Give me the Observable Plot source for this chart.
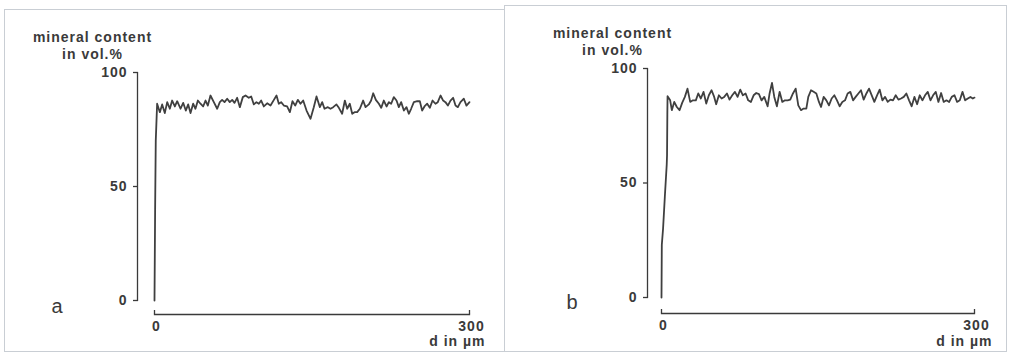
<!DOCTYPE html>
<html>
<head>
<meta charset="utf-8">
<script src="https://cdn.jsdelivr.net/npm/d3@7"></script>
<script src="https://cdn.jsdelivr.net/npm/@observablehq/plot@0.6"></script>
<style>
  html, body { margin: 0; padding: 0; background: #fff; }
  #wrap { position: relative; width: 1009px; height: 354px; overflow: hidden; background: #fff; }
  .panel { position: absolute; top: 0; width: 504px; height: 354px; }
  .border { position: absolute; border: 1px solid #c9ced4; box-sizing: border-box; }
</style>
</head>
<body>
<div id="wrap">
  <div class="border" style="left:4px; top:9px; width:501px; height:343px;"></div>
  <div class="border" style="left:504px; top:5px; width:503px; height:347px;"></div>
  <div class="panel" id="pa" style="left:0px;"></div>
  <div class="panel" id="pb" style="left:504px;"></div>
</div>
<script>
// ---- data ----
const yTitle1 = "mineral content";
const yTitle2 = "in vol.%";
const xTitle = "d in µm";
const yTicks = [0, 50, 100];
const xTicks = [0, 300];
const panelLabels = ["a", "b"];

const aDepth = [0,0.6,1.2,2.5,5.1,7.3,9.8,12.1,14.6,16.8,19.4,21.6,24.8,27.3,29.8,32.1,34.3,36.8,39.0,41.3,43.8,46.3,48.6,50.8,53.3,56.5,59.7,62.2,64.4,66.7,69.2,71.7,74.0,76.2,78.7,81.3,84.1,86.7,89.8,92.1,94.6,97.1,99.4,101.6,104.1,107.3,110.5,113.7,116.2,118.4,120.6,123.2,126.3,128.9,131.4,134.0,136.5,139.0,141.6,144.8,148.6,151.7,154.3,157.5,159.7,161.9,165.1,167.6,170.2,173.3,175.6,178.7,181.3,183.5,186.0,188.3,190.5,193.0,195.6,198.7,201.0,204.1,206.3,208.3,210.8,213.7,215.9,218.4,221.0,223.2,225.4,227.9,230.5,232.7,234.9,237.5,240.0,242.2,244.4,247.0,250.2,252.7,254.9,257.1,259.7,262.2,264.8,267.6,269.8,272.4,274.9,277.1,279.4,281.9,284.4,286.7,288.9,291.4,294.6,297.1,300];
const aMineral = [0,40,70,86.3,82.6,86.0,82.2,87.0,84.1,87.7,85.1,87.4,84.1,86.7,83.3,86.0,82.2,86.3,84.1,87.7,86.3,85.1,87.7,85.5,89.9,87.0,84.1,87.0,88.0,87.0,88.5,87.0,88.0,86.7,88.9,84.8,89.2,89.9,88.9,89.5,86.0,87.0,86.3,87.7,85.1,86.5,85.5,88.0,89.9,86.3,87.0,85.5,85.1,82.6,87.4,85.5,88.0,86.3,87.7,83.3,79.7,84.8,89.5,84.8,87.0,84.1,84.8,84.1,84.8,86.0,84.5,81.9,87.7,84.1,86.3,81.9,82.6,82.6,84.1,87.7,84.8,86.0,87.7,90.9,88.0,86.3,84.5,87.7,85.1,87.0,86.3,89.2,87.7,84.8,87.0,83.3,84.8,81.9,84.1,87.0,87.4,87.4,83.3,85.1,86.3,84.5,87.7,86.3,87.0,89.9,87.7,87.0,85.5,87.7,88.9,85.5,84.8,87.0,88.5,85.5,87.0];

const bDepth = [0,0.3,1.5,3.2,5.0,5.3,5.6,5.8,8.3,9.9,12.2,14.7,17.3,19.8,22.4,24.9,27.5,30.1,32.9,35.2,37.7,40.3,42.9,45.4,48.0,50.5,52.4,55.0,57.6,60.1,62.7,65.2,67.8,70.4,72.9,75.5,78.0,80.6,83.1,85.7,88.3,90.8,93.4,95.9,98.5,101.7,103.6,105.9,108.1,110.6,113.2,115.8,118.3,120.9,123.4,126.0,128.6,131.1,133.7,136.2,138.8,140.7,143.3,145.8,148.4,150.9,152.9,155.4,158.0,160.5,163.1,165.7,168.2,170.8,173.3,175.9,178.4,181.0,183.6,186.1,188.7,191.2,193.8,196.4,198.9,201.5,204.0,206.6,209.1,211.7,214.3,216.8,219.4,221.9,224.5,227.1,229.6,232.2,234.7,237.3,239.8,242.4,245.0,247.5,250.1,252.6,255.2,257.8,260.3,262.9,265.4,268.0,270.5,273.1,275.7,278.2,280.8,283.3,285.9,288.5,291.0,293.6,296.1,298.4,300];
const bMineral = [0,23,30,44,58,62,80,87.9,86.1,81.8,85.4,83.2,81.8,85.0,87.6,91.2,85.4,86.1,86.1,89.1,86.9,89.8,84.7,88.3,90.5,87.6,84.4,88.3,86.9,87.6,89.1,86.4,88.3,89.8,87.6,90.8,88.3,89.1,86.1,85.4,88.3,89.3,88.8,86.1,87.6,83.5,89.1,93.7,87.6,83.5,89.8,85.4,86.1,86.1,86.4,89.1,91.2,83.9,81.8,82.5,82.5,87.6,90.5,89.8,89.1,85.4,83.2,87.6,86.1,83.9,86.9,88.3,86.1,83.5,85.4,86.1,89.1,89.8,86.1,87.6,89.1,90.5,86.4,89.1,91.2,88.3,85.4,88.3,90.8,86.1,87.6,85.4,86.4,86.1,88.3,86.4,86.9,87.6,89.1,86.1,83.5,87.6,84.4,88.3,86.1,88.3,89.8,86.1,88.3,89.8,85.4,89.3,85.4,86.1,85.4,87.6,88.3,85.4,86.1,89.8,86.1,86.9,87.6,86.9,87.3];

const ink = "#3a3a3a";

function panel(depth, mineral, label, g) {
  const data = depth.map((d, i) => ({d, v: mineral[i]}));
  return Plot.plot({
    width: 504,
    height: 354,
    marginLeft: g.ml, marginRight: g.mr, marginTop: g.mt, marginBottom: g.mb,
    style: {fontFamily: "'Liberation Sans', Arial, sans-serif", fontWeight: "bold", fontSize: "14px", letterSpacing: "1px", color: ink, background: "transparent", overflow: "visible"},
    x: {domain: [0, 300]},
    y: {domain: [0, 100]},
    marks: [
      // y axis line and ticks (offset left of the data frame)
      Plot.frame({anchor: "left", dx: -g.yOff, stroke: ink, strokeWidth: 1.3}),
      Plot.axisY({ticks: yTicks, tickSize: 4, dx: -g.yOff, tickPadding: 6, label: null, stroke: ink, strokeWidth: 1.3, fill: ink, fontSize: 14}),
      // x axis line and ticks (offset below the data frame)
      Plot.frame({anchor: "bottom", dy: g.xOff, stroke: ink, strokeWidth: 1.3}),
      Plot.axisX({ticks: xTicks, tickSize: 4, dy: g.xOff - 4, text: null, label: null, stroke: ink, strokeWidth: 1.3}),
      Plot.axisX({ticks: xTicks, tickSize: 0, dy: g.xOff - 1, tickPadding: 8, label: null, fill: ink, fontSize: 14, dx: 2}),
      // titles
      Plot.text([yTitle1], {frameAnchor: "top-left", dx: g.tdx, dy: g.tdy, text: d => d, textAnchor: "middle", fill: ink, fontSize: 14}),
      Plot.text([yTitle2], {frameAnchor: "top-left", dx: g.tdx, dy: g.tdy + 17, text: d => d, textAnchor: "middle", fill: ink, fontSize: 14}),
      Plot.text([xTitle], {frameAnchor: "bottom-right", dx: g.xtdx, dy: g.xtdy, text: d => d, textAnchor: "end", fill: ink, fontSize: 14}),
      Plot.text([label], {frameAnchor: "bottom-left", dx: g.ldx, dy: g.ldy, text: d => d, textAnchor: "middle", fill: ink, fontSize: 20, fontWeight: "normal"}),
      // data
      Plot.line(data, {x: "d", y: "v", stroke: "#404040", strokeWidth: 1.8, strokeLinejoin: "round"})
    ]
  });
}

document.getElementById("pa").appendChild(panel(aDepth, aMineral, panelLabels[0],
  {ml: 154, mr: 35, mt: 72, mb: 54, yOff: 17, xOff: 14, tdx: -62, tdy: -40, xtdx: 16, xtdy: 45, ldx: -97, ldy: 12}));
document.getElementById("pb").appendChild(panel(bDepth, bMineral, panelLabels[1],
  {ml: 157, mr: 34, mt: 68, mb: 57, yOff: 14, xOff: 16, tdx: -49, tdy: -40, xtdx: 18, xtdy: 48, ldx: -89, ldy: 11}));
</script>
</body>
</html>
